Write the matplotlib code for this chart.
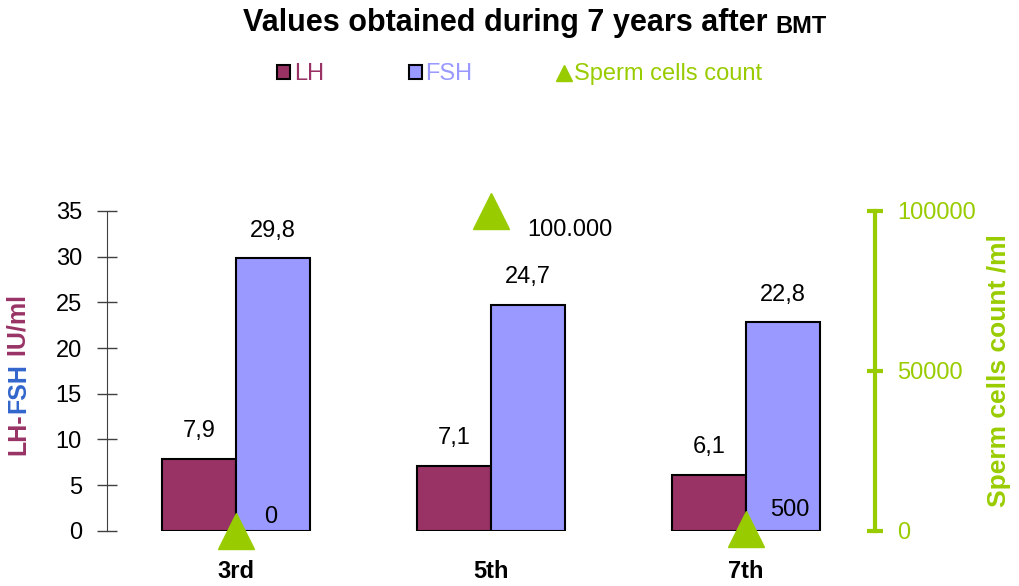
import numpy as np
import matplotlib.pyplot as plt
from matplotlib.patches import Patch
from matplotlib.lines import Line2D

plt.rcParams['font.family'] = ['Liberation Sans', 'DejaVu Sans']

# data
years = ['3rd', '5th', '7th']
lh = [7.9, 7.1, 6.1]
fsh = [29.8, 24.7, 22.8]
sperm = [0, 100000, 500]

c_lh = '#993366'
c_fsh = '#9999FF'
c_sp = '#99CC00'

fig = plt.figure(figsize=(10.19, 5.86), dpi=100)
ax = fig.add_axes([0.105, 0.094, 0.754, 0.546])
x = np.arange(len(years))
w = 0.29

b1 = ax.bar(x - w/2, lh, w, color=c_lh, edgecolor='black', linewidth=1.5)
b2 = ax.bar(x + w/2, fsh, w, color=c_fsh, edgecolor='black', linewidth=1.5)
for bars, vals in ((b1, lh), (b2, fsh)):
    for r, v in zip(bars, vals):
        ax.annotate(f"{v:.1f}".replace('.', ','), (r.get_x() + r.get_width()/2, v),
                    xytext=(0, 12), textcoords='offset points', ha='center', va='bottom', fontsize=17)

ax.set_xlim(-0.506, 2.506)
ax.set_ylim(0, 35)
ax.set_yticks(range(0, 36, 5))
ax.set_xticks(x)
ax.set_xticklabels(years, fontweight='bold', fontsize=17)
ax.tick_params(axis='x', length=0, pad=21)
ax.tick_params(axis='y', direction='inout', length=14, width=1, color='#404040', labelsize=17, pad=11)
for s in ('top', 'right', 'bottom'):
    ax.spines[s].set_visible(False)
ax.spines['left'].set_color('#404040')

ax2 = ax.twinx()
ax2.set_ylim(0, 100000)
ax2.set_yticks([0, 50000, 100000])
ax2.plot(x, sperm, linestyle='none', marker='^', ms=26, color=c_sp, clip_on=False, zorder=5)
offs = [(20, 10), (26, -14), (17, 14)]
for xi, v, o in zip(x, sperm, offs):
    ax2.annotate(f"{v:,}".replace(',', '.'), (xi, v), xytext=o, textcoords='offset points',
                 ha='left', va='center', fontsize=17)
for s in ('top', 'left', 'bottom'):
    ax2.spines[s].set_visible(False)
ax2.spines['right'].set_color(c_sp)
ax2.spines['right'].set_linewidth(3)
ax2.tick_params(axis='y', direction='inout', length=12, width=3, color=c_sp,
                labelcolor=c_sp, labelsize=17, pad=10)
ax2.set_ylabel('Sperm cells count /ml', color=c_sp, fontweight='bold', fontsize=19, labelpad=8)

# left label in three colours
t1 = fig.text(0.018, 0.224, 'LH-', rotation=90, color=c_lh, fontweight='bold', fontsize=18,
              ha='center', va='bottom')
a2 = ax.annotate('FSH', xy=(0.5, 1), xycoords=t1, rotation=90, color='#3366CC', fontweight='bold',
                 fontsize=18, ha='center', va='bottom', annotation_clip=False)
ax.annotate(' IU/ml', xy=(0.5, 1), xycoords=a2, rotation=90, color=c_lh, fontweight='bold',
            fontsize=18, ha='center', va='bottom', annotation_clip=False)

# title with smaller BMT
tt = fig.text(0.238, 0.96, 'Values obtained during 7 years after ', fontsize=22, fontweight='bold',
              ha='left', va='center')
ax.annotate('BMT', xy=(1, 0), xycoords=tt, fontsize=17, fontweight='bold', ha='left', va='bottom',
            annotation_clip=False)

handles = [Patch(facecolor=c_lh, edgecolor='black', linewidth=1.5),
           Patch(facecolor=c_fsh, edgecolor='black', linewidth=1.5),
           Line2D([], [], linestyle='none', marker='^', ms=11, color=c_sp)]
leg = fig.legend(handles, ['LH', 'FSH', 'Sperm cells count'], loc='center', bbox_to_anchor=(0.51, 0.873),
                 ncol=3, frameon=False, fontsize=17, handlelength=0.55, handleheight=0.55,
                 handletextpad=0.15, columnspacing=3.6)
for t, c in zip(leg.get_texts(), [c_lh, c_fsh, c_sp]):
    t.set_color(c)

fig.savefig('out.png', dpi=100)
